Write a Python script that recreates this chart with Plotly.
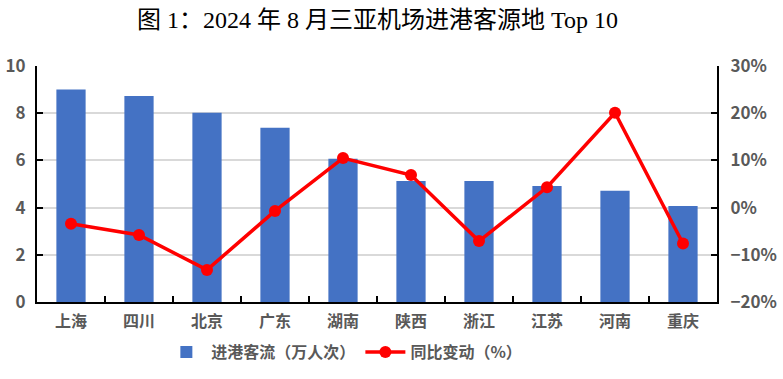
import plotly.graph_objects as go

categories = ["上海", "四川", "北京", "广东", "湖南", "陕西", "浙江", "江苏", "河南", "重庆"]
passengers = [9.0, 8.73, 8.02, 7.38, 6.07, 5.13, 5.13, 4.92, 4.71, 4.07]
yoy_change = [-3.4, -5.8, -13.2, -0.7, 10.5, 6.9, -7.1, 4.3, 20.1, -7.6]

title_text = "图 1：2024 年 8 月三亚机场进港客源地 Top 10"
bar_name = "进港客流（万人次）"
line_name = "同比变动（%）"

font_sans = "Noto Sans CJK SC"
gray = "#595959"

fig = go.Figure()
fig.add_trace(go.Bar(
    x=categories, y=passengers, name=bar_name,
    marker=dict(color="#4472C4", line=dict(width=0)),
    yaxis="y",
))
fig.add_trace(go.Scatter(
    x=categories, y=yoy_change, name=line_name, mode="lines+markers",
    line=dict(color="#FF0000", width=3.5),
    marker=dict(color="#FF0000", size=12),
    yaxis="y2",
))

fig.update_layout(
    width=783, height=379,
    margin=dict(l=37, r=66, t=66, b=77, autoexpand=False),
    paper_bgcolor="white", plot_bgcolor="white",
    bargap=0.57,
    title=dict(text=title_text, x=0.482, xanchor="center", y=1 - 20 / 379, yanchor="middle",
               yref="container",
               font=dict(family="Liberation Serif, Noto Sans CJK SC", size=24, color="black")),
    showlegend=True,
    legend=dict(orientation="h", x=0.452, xanchor="center", y=1 - 352 / 379, yanchor="middle",
                yref="container",
                font=dict(family=font_sans, size=16, color=gray, weight="bold"),
                itemwidth=40, tracegroupgap=0),
    xaxis=dict(
        type="category", showgrid=False,
        showline=True, linecolor="black", linewidth=2,
        ticks="inside", tickcolor="black", ticklen=6, tickwidth=1.5,
        tickson="boundaries",
        ticklabelstandoff=4,
        tickfont=dict(family=font_sans, size=16, color=gray, weight="bold"),
        range=[-0.5, 9.5],
    ),
    yaxis=dict(
        range=[0, 10], dtick=2,
        showgrid=True, gridcolor="#D9D9D9", gridwidth=1.5,
        showline=True, linecolor="black", linewidth=2,
        ticks="inside", tickcolor="black", ticklen=6, tickwidth=1.5,
        ticklabelstandoff=6,
        tickfont=dict(family=font_sans, size=17, color=gray, weight="bold"),
        zeroline=False,
    ),
    yaxis2=dict(
        range=[-20, 30], dtick=10, overlaying="y", side="right",
        ticksuffix="%", showgrid=False,
        showline=True, linecolor="black", linewidth=2,
        ticks="inside", tickcolor="black", ticklen=6, tickwidth=1.5,
        ticklabelstandoff=8,
        tickfont=dict(family=font_sans, size=17, color=gray, weight="bold"),
        zeroline=False,
    ),
)

fig.write_html("out.html", config={"displayModeBar": False},
               post_script="document.body.style.margin='0';")
